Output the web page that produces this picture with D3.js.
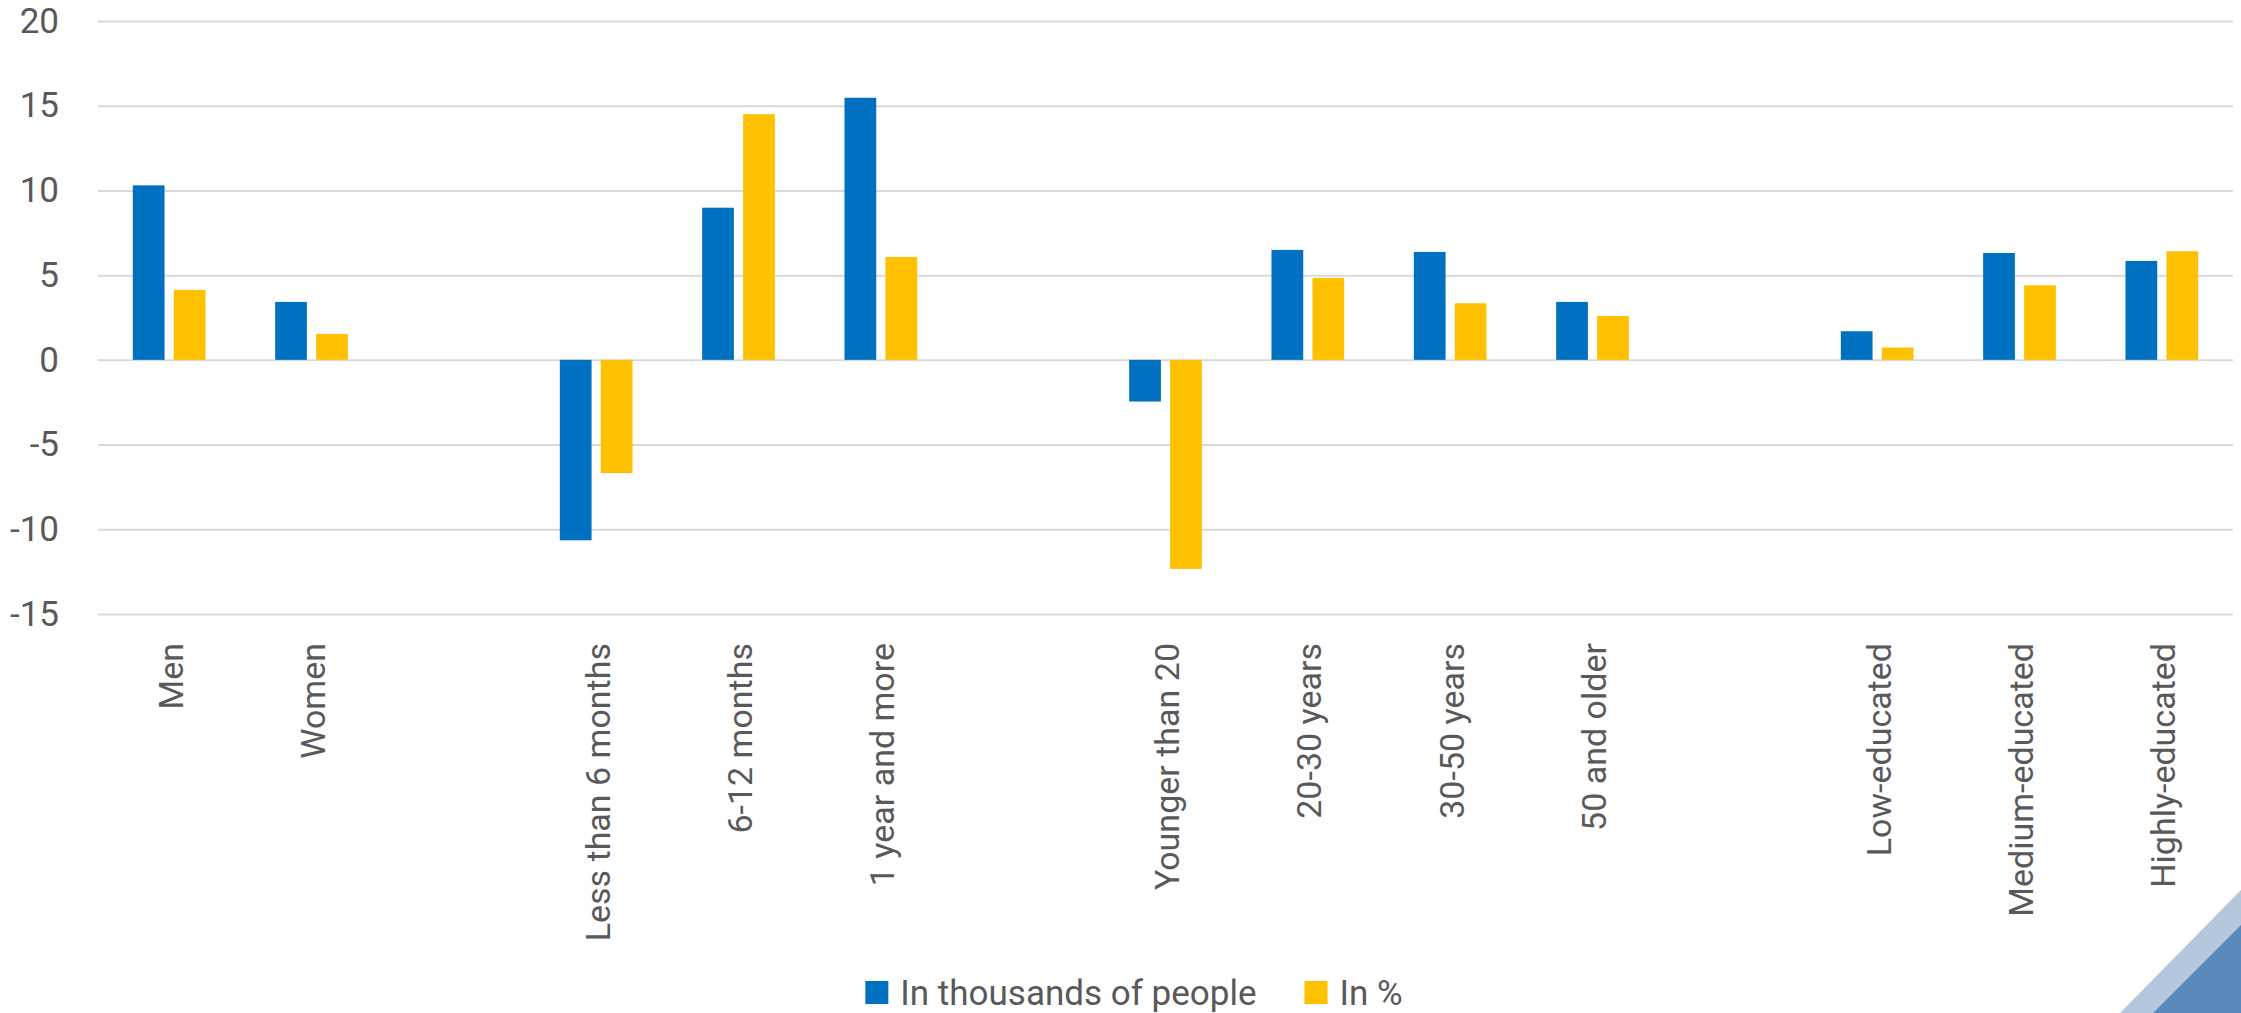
<!DOCTYPE html>
<html>
<head>
<meta charset="utf-8">
<script src="https://cdn.jsdelivr.net/npm/d3@7"></script>
<style>
  html, body { margin: 0; padding: 0; background: #ffffff; }
  svg { display: block; }
</style>
</head>
<body>
<div id="container"></div>
<script>
/* DATA */
// empty strings are the spacer slots between the groups
const categories = ["Men", "Women", "", "Less than 6 months", "6-12 months", "1 year and more", "",
  "Younger than 20", "20-30 years", "30-50 years", "50 and older", "",
  "Low-educated", "Medium-educated", "Highly-educated"];
const inThousands = [10.3, 3.42, null, -10.65, 8.98, 15.47, null, -2.46, 6.49, 6.37, 3.42, null, 1.69, 6.31, 5.84];
const inPercent = [4.13, 1.53, null, -6.68, 14.5, 6.07, null, -12.34, 4.83, 3.34, 2.59, null, 0.73, 4.4, 6.41];
const seriesNames = ["In thousands of people", "In %"];
const seriesColors = ["#0070C0", "#FFC000"];
const yTicks = [-15, -10, -5, 0, 5, 10, 15, 20];

/* CONSTANTS */
const width = 2241,
  height = 1013,
  margin = { top: 21, bottom: 399, left: 98, right: 8 };

const fontFamily = "Roboto, 'Open Sans', sans-serif";
const textColor = "#595959";

const svg = d3.select("#container")
  .append("svg")
  .attr("width", width)
  .attr("height", height);

// + SCALES
const xScale = d3.scaleBand()
  .domain(d3.range(categories.length))
  .range([margin.left, width - margin.right])
  .paddingInner(0)
  .paddingOuter(0);

const xSub = d3.scaleBand()
  .domain([0, 1])
  .range([0, xScale.bandwidth()])
  .paddingInner(0.225)
  .paddingOuter(0.85);

const yScale = d3.scaleLinear()
  .domain([-15, 20])
  .range([height - margin.bottom, margin.top]);

// + AXES
const yAxis = d3.axisLeft(yScale)
  .tickValues(yTicks)
  .tickFormat(d => String(d)) // plain hyphen, not the unicode minus
  .tickSize(-(width - margin.left - margin.right))
  .tickPadding(39);

const yAxisGroup = svg.append("g")
  .attr("class", "yAxis")
  .attr("transform", `translate(${margin.left}, 0)`)
  .call(yAxis);

yAxisGroup.select(".domain").remove();
yAxisGroup.selectAll(".tick line")
  .attr("stroke", "#d9d9d9")
  .attr("stroke-width", 2);
yAxisGroup.selectAll(".tick text")
  .attr("fill", textColor)
  .attr("font-family", fontFamily)
  .attr("font-size", 35);

const xAxis = d3.axisBottom(xScale)
  .tickSize(0)
  .tickFormat(i => categories[i]);

const xAxisGroup = svg.append("g")
  .attr("class", "xAxis")
  .attr("transform", `translate(0, ${height - margin.bottom})`)
  .call(xAxis);

xAxisGroup.select(".domain").remove();
xAxisGroup.selectAll(".tick text")
  .attr("transform", "rotate(-90)")
  .attr("x", -29)
  .attr("y", 0)
  .attr("dy", "0.4em")
  .attr("text-anchor", "end")
  .attr("fill", textColor)
  .attr("font-family", fontFamily)
  .attr("font-size", 34);

// + BARS
const series = [inThousands, inPercent];

const groups = svg.append("g")
  .selectAll("g")
  .data(series)
  .join("g")
  .attr("fill", (d, s) => seriesColors[s]);

groups.selectAll("rect")
  .data((values, s) => values.map((v, i) => ({ i, s, v })).filter(d => d.v !== null))
  .join("rect")
  .attr("x", d => xScale(d.i) + xSub(d.s))
  .attr("width", xSub.bandwidth())
  .attr("y", d => yScale(Math.max(0, d.v)))
  .attr("height", d => Math.abs(yScale(d.v) - yScale(0)));

// + LEGEND
const legend = svg.append("g").attr("class", "legend");
const legendItems = legend.selectAll("g")
  .data(seriesNames)
  .join("g");

legendItems.append("rect")
  .attr("y", 981)
  .attr("width", 23)
  .attr("height", 23)
  .attr("fill", (d, i) => seriesColors[i]);

legendItems.append("text")
  .attr("x", 35)
  .attr("y", 1005)
  .attr("fill", textColor)
  .attr("font-family", fontFamily)
  .attr("font-size", 35)
  .text(d => d);

// lay the items out side by side, centred
let offset = 0;
const itemX = [];
legendItems.each(function () {
  itemX.push(offset);
  const w = d3.select(this).select("text").node().getComputedTextLength();
  offset += 35 + w + 48;
});
const legendWidth = offset - 48;
const legendStart = 1134 - legendWidth / 2;
legendItems.attr("transform", (d, i) => `translate(${legendStart + itemX[i]}, 0)`);

// + CORNER DECORATION
svg.append("polygon")
  .attr("points", "2120,1013 2241,890 2241,1013")
  .attr("fill", "#b4c7dd");
svg.append("polygon")
  .attr("points", "2153,1013 2241,925 2241,1013")
  .attr("fill", "#5a88bb");
</script>
</body>
</html>
